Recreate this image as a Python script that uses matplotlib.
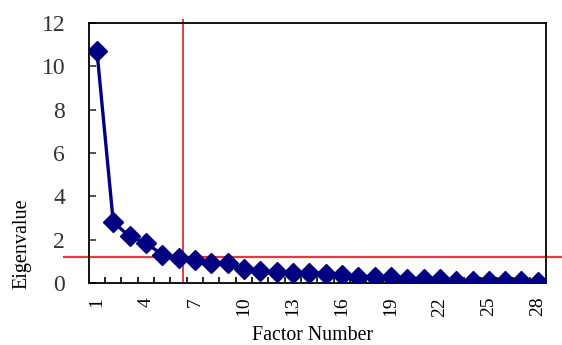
import matplotlib.pyplot as plt
import numpy as np

# factor numbers and eigenvalues (scree plot)
factors = list(range(1, 29))
eigenvalues = [10.7, 2.8, 2.15, 1.85, 1.3, 1.15, 1.05, 0.92, 0.9, 0.65,
               0.57, 0.5, 0.48, 0.47, 0.43, 0.37, 0.29, 0.28, 0.28, 0.2,
               0.2, 0.19, 0.11, 0.1, 0.1, 0.08, 0.07, 0.04]
xtick_labels = [1, 4, 7, 10, 13, 16, 19, 22, 25, 28]
cutoff_factor = 6.3
cutoff_value = 1.2

plt.rcParams['font.family'] = ['Liberation Serif', 'DejaVu Serif']

fig = plt.figure(figsize=(5.62, 3.45), dpi=100)
ax = fig.add_axes([0.158, 0.180, 0.8135, 0.753])

ax.plot(factors, eigenvalues, color='#000080', lw=2.4, marker='D',
        markersize=10.5, markerfacecolor='#000080', markeredgecolor='#000080',
        zorder=3)

# red cut-off lines (they run past the plot frame)
red = '#e8383c'
ax.plot([cutoff_factor, cutoff_factor], [0, 12.15], color=red, lw=1.4,
        clip_on=False, zorder=2)
ax.plot([-1.03, 29.5], [cutoff_value, cutoff_value], color=red, lw=1.6,
        clip_on=False, zorder=2)

ax.set_xlim(0.5, 28.5)
ax.set_ylim(0, 12)

ax.set_xticks(xtick_labels)
ax.set_xticklabels([str(v) for v in xtick_labels], rotation=90, fontsize=14)
ax.set_xticks(np.arange(1.5, 28.5, 1), minor=True)
ax.tick_params(axis='x', which='major', length=0, pad=10)
ax.tick_params(axis='x', which='minor', direction='in', length=4, width=1.2)

ax.set_yticks(range(0, 13, 2))
ax.tick_params(axis='y', direction='in', length=5, width=1.2, labelsize=17,
               pad=17, colors='#333333', labelcolor='#333333')

for s in ax.spines.values():
    s.set_linewidth(1.3)

ax.set_xlabel('Factor Number', fontsize=14.3)
ax.xaxis.set_label_coords(0.49, -0.165)
ax.set_ylabel('Eigenvalue', fontsize=14.5)
ax.yaxis.set_label_coords(-0.125, 0.15)

fig.savefig('out.png', dpi=100)
